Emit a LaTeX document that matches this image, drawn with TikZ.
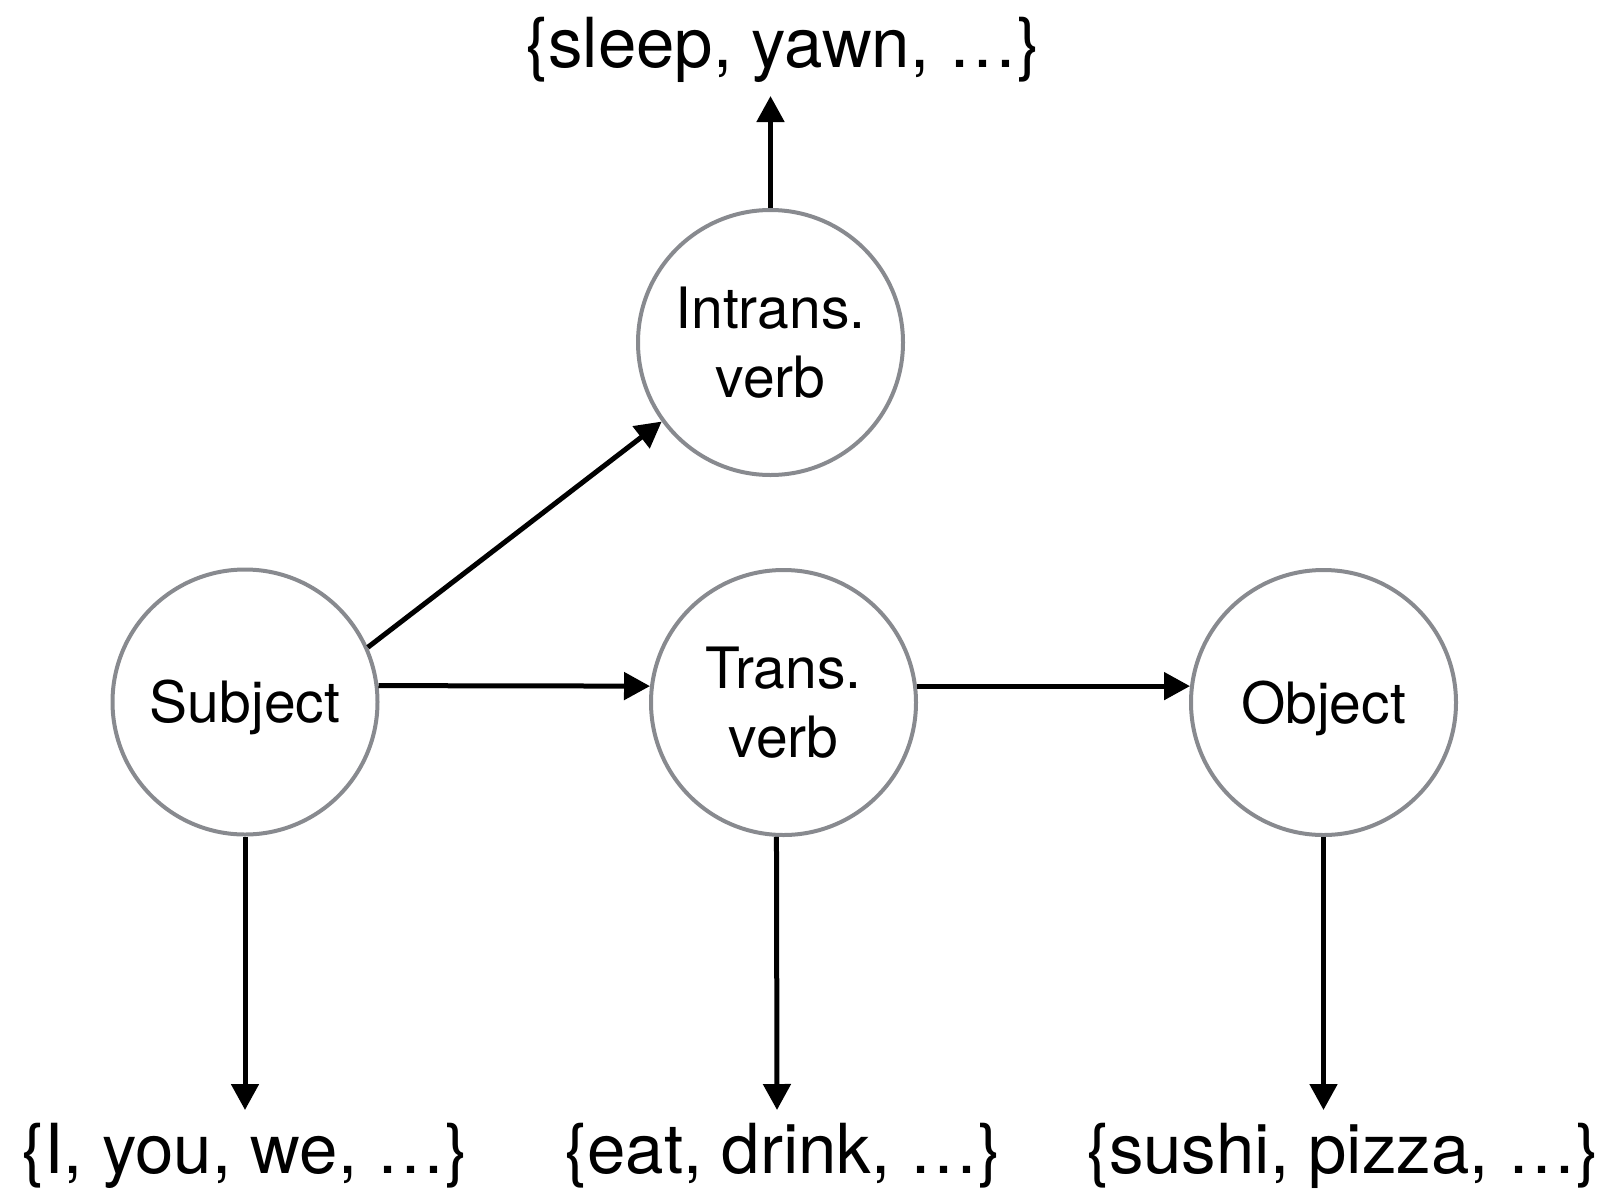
\documentclass[tikz,border=0pt]{standalone}
\usepackage{fontspec}
\setmainfont{TeX Gyre Heros}
\usetikzlibrary{arrows.meta}
\definecolor{ringgray}{RGB}{136,138,143}
\begin{document}
\begin{tikzpicture}[x=1pt,y=-1pt,
  state/.style={circle,draw=ringgray,line width=4pt,minimum size=265pt,
    inner sep=0pt,font=\fontsize{57}{68.5}\selectfont},
  oneline/.style={text height=41pt,text depth=0pt},
  twoline/.style={align=center},
  setlabel/.style={anchor=base,inner sep=0pt,font=\fontsize{69}{80}\selectfont},
  link/.style={line width=5pt,-{Triangle[length=26pt,width=27pt]}}]

  % page frame
  \path[use as bounding box] (0,0) rectangle (1612,1189);

  % states
  \node[state,oneline] (subj)  at (245,702)      {Subject};
  \node[state,twoline] (iverb) at (770.5,342.5)  {Intrans.\\verb};
  \node[state,twoline] (tverb) at (783.5,702.5)  {Trans.\\verb};
  \node[state,oneline] (obj)   at (1323.5,702.5) {Object};

  % emitted word sets
  \node[setlabel] (iset) at (783,67)    {\{sleep, yawn, …\}};
  \node[setlabel] (sset) at (245,1173)  {\{I, you, we, …\}};
  \node[setlabel] (tset) at (783,1173)  {\{eat, drink, …\}};
  \node[setlabel] (oset) at (1343,1173) {\{sushi, pizza, …\}};

  % arrow ends next to the word sets
  \coordinate (itip) at (770.5,96);
  \coordinate (stip) at (245,1110);
  \coordinate (ttip) at (777,1110);
  \coordinate (otip) at (1323.5,1110);

  % transitions
  \draw[link] (subj.24.7) -- (iverb.216.6);
  \draw[link] (subj.7) -- (tverb.173);
  \draw[link] (tverb.7) -- (obj.173);

  % emissions
  \draw[link] (iverb.north) -- (itip);
  \draw[link] (subj.south) -- (stip);
  \draw[link] (tverb.267.2) -- (ttip);
  \draw[link] (obj.south) -- (otip);
\end{tikzpicture}
\end{document}
